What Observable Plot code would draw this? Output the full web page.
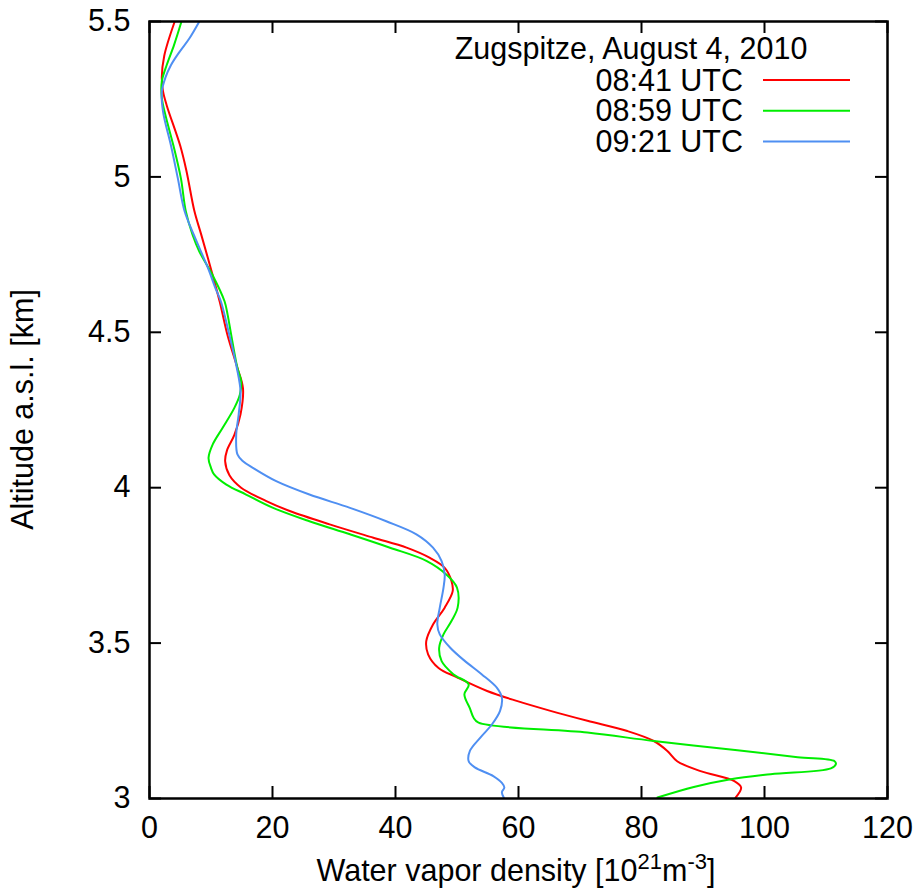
<!DOCTYPE html>
<html><head><meta charset="utf-8">
<script src="https://cdn.jsdelivr.net/npm/d3@7"></script>
<script src="https://cdn.jsdelivr.net/npm/@observablehq/plot@0.6"></script>
<style>
body{margin:0;background:#fff;}
svg{font-family:"Liberation Sans",Arial,Helvetica,sans-serif;}
</style>
</head><body><div id="chart"></div>
<script>
// ---- data ----
const seriesNames = ["08:41 UTC", "08:59 UTC", "09:21 UTC"];
const seriesColors = ["#ff0000", "#00ee00", "#4f8ff2"];
const chartTitle = "Zugspitze, August 4, 2010";

const altRed = [5.5,5.39,5.32,5.275,5.23,5.10,5.02,4.89,4.815,4.71,4.60,4.49,4.385,4.32,4.236,4.17,4.12,4.085,4.04,4.0,3.957,3.925,3.882,3.839,3.807,3.774,3.742,3.70,3.667,3.614,3.56,3.506,3.464,3.42,3.39,3.346,3.314,3.282,3.25,3.217,3.185,3.153,3.12,3.088,3.056,3.035,3.003];
const valRed = [4.1,2.4,2.0,2.2,2.8,5.0,6.0,7.3,8.4,9.9,11.4,12.7,14.3,15.2,14.8,13.8,12.6,12.3,13.0,14.9,19.0,22.8,29.3,36.4,41.8,45.6,48.0,49.1,49.3,48.0,46.1,45.0,45.3,47.0,50.0,54.9,59.7,65.2,71.2,77.7,82.0,84.2,85.8,89.6,95.1,96.2,95.3];

const altGreen = [5.5,5.425,5.36,5.307,5.254,5.19,5.10,4.996,4.89,4.814,4.76,4.686,4.60,4.557,4.49,4.385,4.343,4.30,4.257,4.193,4.14,4.096,4.064,4.043,4.01,3.978,3.935,3.892,3.85,3.807,3.764,3.72,3.678,3.614,3.571,3.528,3.485,3.442,3.40,3.367,3.335,3.29,3.26,3.244,3.212,3.185,3.155,3.133,3.12,3.11,3.097,3.078,3.062,3.037,3.003];
const valGreen = [5.2,4.0,2.8,2.0,2.0,2.7,3.9,5.1,5.9,7.0,8.1,10.2,12.2,12.7,13.3,14.3,14.9,14.7,13.8,11.9,10.3,9.6,10.0,10.5,12.5,15.7,20.1,26.0,32.6,39.1,45.1,48.3,50.0,50.1,49.1,47.8,47.1,47.5,49.4,51.9,51.2,52.1,52.7,53.5,71.2,82.0,95.6,105.4,111.4,111.6,110.8,101.0,94.5,88.5,82.6];

const altBlue = [5.5,5.446,5.40,5.36,5.32,5.275,5.21,5.10,4.996,4.89,4.814,4.707,4.643,4.60,4.49,4.385,4.31,4.236,4.171,4.107,4.085,4.064,4.021,3.978,3.935,3.892,3.85,3.807,3.764,3.72,3.678,3.614,3.56,3.528,3.485,3.442,3.40,3.356,3.324,3.282,3.239,3.196,3.153,3.12,3.10,3.072,3.05,3.035,3.02,3.003];
const valBlue = [8.1,6.5,4.8,3.5,2.6,2.0,2.2,3.5,4.6,5.7,7.2,9.5,10.7,11.6,13.0,14.2,14.8,14.5,14.1,14.3,15.2,16.8,20.6,26.0,32.6,38.5,43.4,46.1,47.5,48.0,47.8,47.2,46.8,47.2,48.9,51.3,54.0,56.5,57.3,57.0,55.7,53.8,52.1,51.9,52.9,55.9,57.3,57.7,57.3,57.6];

const xTicks = [0, 20, 40, 60, 80, 100, 120];
const yTicks = [3, 3.5, 4, 4.5, 5, 5.5];
const xLabelMain = "Water vapor density [10";
const yLabel = "Altitude a.s.l. [km]";

// ---- build ----
const toRows = (alts, vals) => alts.map((a, i) => ({alt: a, v: vals[i]}));
const seriesRows = [toRows(altRed, valRed), toRows(altGreen, valGreen), toRows(altBlue, valBlue)];

const W = 918, H = 895, mL = 149, mR = 31, mT = 21, mB = 97;
const innerW = W - mL - mR, innerH = H - mT - mB;
const tickLen = 12;
const FS = 30.5;

const plot = Plot.plot({
  width: W, height: H,
  marginLeft: mL, marginRight: mR, marginTop: mT, marginBottom: mB,
  style: {fontFamily: '"Liberation Sans", Arial, sans-serif', fontSize: FS + "px", background: "white", color: "black"},
  x: {domain: [0, 120]},
  y: {domain: [3, 5.5]},
  marks: [
    Plot.axisX(xTicks, {anchor: "bottom", tickSize: 0, tickPadding: 18, tickFormat: d => String(d), label: null, fontSize: FS}),
    Plot.axisY(yTicks, {anchor: "left", tickSize: 0, tickPadding: 19, tickFormat: d => String(d), label: null, fontSize: FS}),
    Plot.tickX(xTicks, {x: d => d, insetTop: innerH - tickLen, stroke: "black", strokeWidth: 2}),
    Plot.tickX(xTicks, {x: d => d, insetBottom: innerH - tickLen, stroke: "black", strokeWidth: 2}),
    Plot.tickY(yTicks, {y: d => d, insetRight: innerW - tickLen, stroke: "black", strokeWidth: 2}),
    Plot.tickY(yTicks, {y: d => d, insetLeft: innerW - tickLen, stroke: "black", strokeWidth: 2}),
    ...seriesRows.map((rows, i) => Plot.line(rows, {x: "v", y: "alt", stroke: seriesColors[i], strokeWidth: 2, curve: "catmull-rom", clip: true})),
    Plot.frame({stroke: "black", strokeWidth: 2.5})
  ]
});

document.getElementById("chart").appendChild(plot);
const svg = d3.select(plot);

// x axis label with superscripts
const xl = svg.append("text")
  .attr("x", 516).attr("y", 881)
  .attr("text-anchor", "middle").attr("font-size", FS).attr("fill", "black");
xl.append("tspan").text(xLabelMain);
xl.append("tspan").attr("dy", -12).attr("font-size", 22).text("21");
xl.append("tspan").attr("dy", 12).text("m");
xl.append("tspan").attr("dy", -12).attr("font-size", 22).text("-3");
xl.append("tspan").attr("dy", 12).text("]");

// y axis label
svg.append("text")
  .attr("transform", `translate(33,${mT + innerH / 2}) rotate(-90)`)
  .attr("text-anchor", "middle").attr("font-size", FS).attr("fill", "black")
  .text(yLabel);

// legend
const lg = svg.append("g");
lg.append("text").attr("x", 631).attr("y", 58.5).attr("text-anchor", "middle")
  .attr("font-size", FS).text(chartTitle);
seriesNames.forEach((name, i) => {
  const yy = 80 + i * 30.8;
  lg.append("text").attr("x", 743).attr("y", yy + 10.5).attr("text-anchor", "end")
    .attr("font-size", FS).text(name);
  lg.append("line").attr("x1", 763).attr("x2", 850).attr("y1", yy).attr("y2", yy)
    .attr("stroke", seriesColors[i]).attr("stroke-width", 2);
});
</script>
</body></html>
